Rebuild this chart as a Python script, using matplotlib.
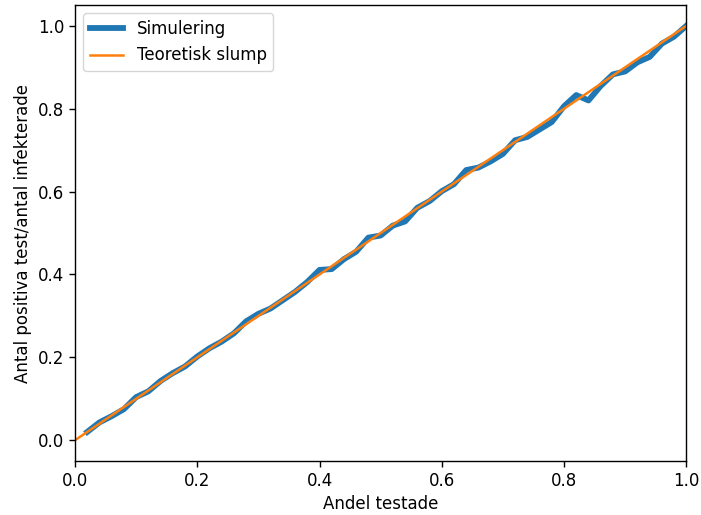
import numpy as np
from matplotlib import pyplot as plt

# Andel testade (x) och simulerat utfall
andel = [0.02, 0.04, 0.06, 0.08, 0.10, 0.12, 0.14, 0.16, 0.18, 0.20,
         0.22, 0.24, 0.26, 0.28, 0.30, 0.32, 0.34, 0.36, 0.38, 0.40,
         0.42, 0.44, 0.46, 0.48, 0.50, 0.52, 0.54, 0.56, 0.58, 0.60,
         0.62, 0.64, 0.66, 0.68, 0.70, 0.72, 0.74, 0.76, 0.78, 0.80,
         0.82, 0.84, 0.86, 0.88, 0.90, 0.92, 0.94, 0.96, 0.98, 1.00]
simulering = [0.020, 0.043, 0.058, 0.075, 0.104, 0.118, 0.143, 0.162, 0.178, 0.202,
              0.222, 0.238, 0.258, 0.287, 0.305, 0.318, 0.338, 0.358, 0.382, 0.411,
              0.413, 0.437, 0.455, 0.489, 0.494, 0.518, 0.528, 0.561, 0.577, 0.601,
              0.618, 0.652, 0.658, 0.673, 0.691, 0.724, 0.732, 0.750, 0.768, 0.806,
              0.833, 0.820, 0.855, 0.883, 0.890, 0.912, 0.925, 0.957, 0.974, 1.000]

# Teoretisk slump: y = x
teori_x = [0.0, 1.0]
teori_y = [0.0, 1.0]

plt.rcParams['font.size'] = 12
plt.rcParams['axes.linewidth'] = 1.0
plt.rcParams['xtick.major.width'] = 1.0
plt.rcParams['ytick.major.width'] = 1.0
plt.rcParams['xtick.major.size'] = 4.2
plt.rcParams['ytick.major.size'] = 4.2

fig, ax = plt.subplots(figsize=(7.01, 5.15), dpi=100)
fig.subplots_adjust(left=0.107, right=0.979, top=0.990, bottom=0.105)

ax.plot(andel, simulering, color='#1f77b4', linewidth=4.2, label='Simulering')
ax.plot(teori_x, teori_y, color='#ff7f0e', linewidth=1.8, label='Teoretisk slump')

ax.set_xlim(0, 1)
ax.set_ylim(-0.05, 1.05)
ax.set_xlabel('Andel testade')
ax.set_ylabel('Antal positiva test/antal infekterade')
ax.legend(loc='upper left')

plt.savefig('out.png')
